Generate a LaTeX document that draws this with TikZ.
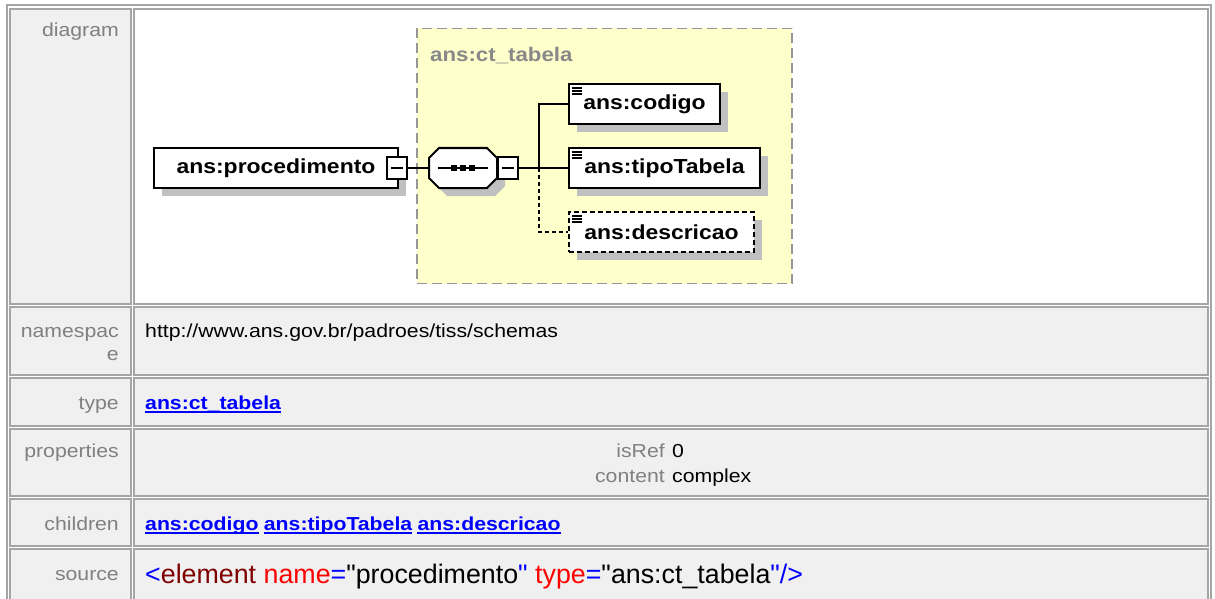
\documentclass[tikz,border=0pt]{standalone}
\usepackage{fontspec}
\setmainfont{Liberation Sans}[FakeStretch=1.13]
\newfontfamily\srcfont{Liberation Sans}
\usepackage{xcolor}
\usetikzlibrary{positioning, shadows}
\definecolor{cellGrey}{RGB}{240,240,240}
\definecolor{cellBorder}{RGB}{165,165,165}
\definecolor{labelGrey}{RGB}{128,128,128}
\definecolor{typeYellow}{RGB}{255,255,204}
\definecolor{typeBorder}{RGB}{150,150,150}
\definecolor{typeLabel}{RGB}{136,136,136}
\definecolor{shadowGrey}{RGB}{192,192,192}
\definecolor{linkBlue}{RGB}{0,0,255}
\definecolor{tagBlue}{RGB}{0,0,255}
\definecolor{tagDarkRed}{RGB}{128,0,0}
\definecolor{attrRed}{RGB}{255,0,0}
\tikzset{
    rowcell/.style={draw=cellBorder, line width=1.5pt},
    rowlabel/.style={anchor=base east, inner sep=0pt, text=labelGrey, font=\fontsize{18.8}{22}\selectfont},
    rowtext/.style={anchor=base west, inner sep=0pt, font=\fontsize{18.8}{22}\selectfont},
    linktext/.style={anchor=base west, inner sep=0pt, text=linkBlue, font=\bfseries\fontsize{18.8}{22}\selectfont},
    linkline/.style={draw=linkBlue, line width=1.4pt},
    srctext/.style={anchor=base west, inner sep=0pt, font=\srcfont\fontsize{26.8}{30}\selectfont},
    elembox/.style={
        rectangle,
        draw=black,
        line width=2pt,
        fill=white,
        minimum height=40pt,
        inner sep=0pt,
        font=\bfseries\fontsize{20.3}{23}\selectfont,
        drop shadow={shadow xshift=8pt, shadow yshift=-8pt, fill=shadowGrey, opacity=1}
    },
    elemicon/.style={
        path picture={
            \foreach \dy in {4pt,7pt,10pt}
                \draw[solid, line width=1.4pt] ([xshift=3pt, yshift=-\dy]path picture bounding box.north west) -- ++(10,0);
        }
    },
    optbox/.style={elembox, dash pattern=on 5pt off 3pt},
    togglebox/.style={
        rectangle,
        draw=black,
        line width=2pt,
        fill=white,
        minimum width=20pt,
        minimum height=22pt,
        inner sep=0pt,
        path picture={\draw[line width=2pt] ([xshift=4pt]path picture bounding box.west) -- ([xshift=-4pt]path picture bounding box.east);}
    },
    seqbox/.style={rectangle, minimum width=68pt, minimum height=40pt, inner sep=0pt},
    seqline/.style={draw=black, line width=2pt, fill=white},
    typebox/.style={rectangle, draw=typeBorder, line width=1.5pt, dash pattern=on 10pt off 5pt, fill=typeYellow},
    typelabel/.style={anchor=base west, inner sep=0pt, text=typeLabel, font=\bfseries\fontsize{19.7}{23}\selectfont},
    conn/.style={draw=black, line width=2pt},
    optconn/.style={conn, dash pattern=on 4pt off 3pt}
}
\begin{document}
\begin{tikzpicture}[x=1pt, y=-1pt]
    \useasboundingbox (0,0) rectangle (1215,599);
    \clip (0,0) rectangle (1215,599);
    % table frame and rows
    \draw[draw=cellBorder, line width=2pt] (7,5) rectangle (1211,640);
    \foreach \ytop/\ybot/\cfill in {9/304/white, 307/375/cellGrey, 378/426/cellGrey, 429/496/cellGrey, 499/546/cellGrey, 549/630/cellGrey} {
        \draw[rowcell, fill=cellGrey] (10,\ytop) rectangle (131,\ybot);
        \draw[rowcell, fill=\cfill] (134,\ytop) rectangle (1208,\ybot);
    }
    % row labels
    \node[rowlabel] (lbldiagram) at (119,37) {diagram};
    \node[rowlabel] (lblns) at (119,337) {namespac};
    \node[rowlabel] (lblnse) at (119,360) {e};
    \node[rowlabel] (lbltype) at (119,409) {type};
    \node[rowlabel] (lblprops) at (119,457) {properties};
    \node[rowlabel] (lblchildren) at (119,530) {children};
    \node[rowlabel] (lblsource) at (119,580) {source};

    % diagram
    \node[typebox, minimum width=375pt, minimum height=255pt] (ctbox) at (604.5,156) {};
    \node[typelabel] (ctlabel) at (430,62) {ans:ct\_tabela};

    \node[elembox, minimum width=244pt] (proc) at (276,168) {ans:procedimento};
    \node[togglebox] (procminus) at (397,168) {};

    % sequence compositor (octagon)
    \node[seqbox] (seq) at (463,168) {};
    \fill[shadowGrey] ([shift={(8,8)}]seq.center) +(-34,-10) -- +(-24,-20) -- +(24,-20) -- +(34,-10)
        -- +(34,10) -- +(24,20) -- +(-24,20) -- +(-34,10) -- cycle;
    \draw[seqline] (seq.center) +(-34,-10) -- +(-24,-20) -- +(24,-20) -- +(34,-10)
        -- +(34,10) -- +(24,20) -- +(-24,20) -- +(-34,10) -- cycle;
    \draw[line width=2pt] ([xshift=-25pt]seq.center) -- ([xshift=25pt]seq.center);
    \foreach \dx in {-9pt,0pt,9pt}
        \fill ([xshift=\dx]seq.center) +(-3,-3) rectangle +(3,3);
    \node[togglebox, anchor=west] (seqminus) at (seq.east) {};
    \coordinate (branch) at (539,168);

    \node[elembox, elemicon, minimum width=151pt] (codigo) at (644.5,104) {ans:codigo};
    \node[elembox, elemicon, minimum width=191pt] (tipo) at (664.5,168) {ans:tipoTabela};
    \node[optbox, elemicon, minimum width=185pt] (desc) at (661.5,232) {ans:descricao};

    \draw[conn] (procminus) -- (seq);
    \draw[conn] (seqminus) -- (branch);
    \draw[conn] (branch) |- (codigo.west);
    \draw[conn] (branch) -- (tipo.west);
    \draw[optconn] (branch) |- (desc.west);

    % table contents
    \node[rowtext] (nsurl) at (145,337) {http://www.ans.gov.br/padroes/tiss/schemas};
    \node[linktext] (lnktype) at (145,409) {ans:ct\_tabela};
    \node[rowlabel] (isreflbl) at (665,457) {isRef};
    \node[rowtext] (isrefval) at (672,457) {0};
    \node[rowlabel] (contentlbl) at (665,482) {content};
    \node[rowtext] (contentval) at (672,482) {complex};
    \node[linktext] (lnkcodigo) at (145,530) {ans:codigo};
    \node[linktext] (lnktipo) at ([xshift=5pt]lnkcodigo.base east) {ans:tipoTabela};
    \node[linktext] (lnkdesc) at ([xshift=5pt]lnktipo.base east) {ans:descricao};
    \foreach \lnk in {lnktype, lnkcodigo, lnktipo, lnkdesc}
        \draw[linkline] ([yshift=-3pt]\lnk.base west) -- ([yshift=-3pt]\lnk.base east);
    \node[srctext] (srcline) at (145,583) {\textcolor{tagBlue}{<}\textcolor{tagDarkRed}{element} \textcolor{attrRed}{name}\textcolor{tagBlue}{=}"procedimento\textcolor{tagBlue}{"} \textcolor{attrRed}{type}\textcolor{tagBlue}{=}"ans:ct\_tabela\textcolor{tagBlue}{"/>}};
\end{tikzpicture}
\end{document}
